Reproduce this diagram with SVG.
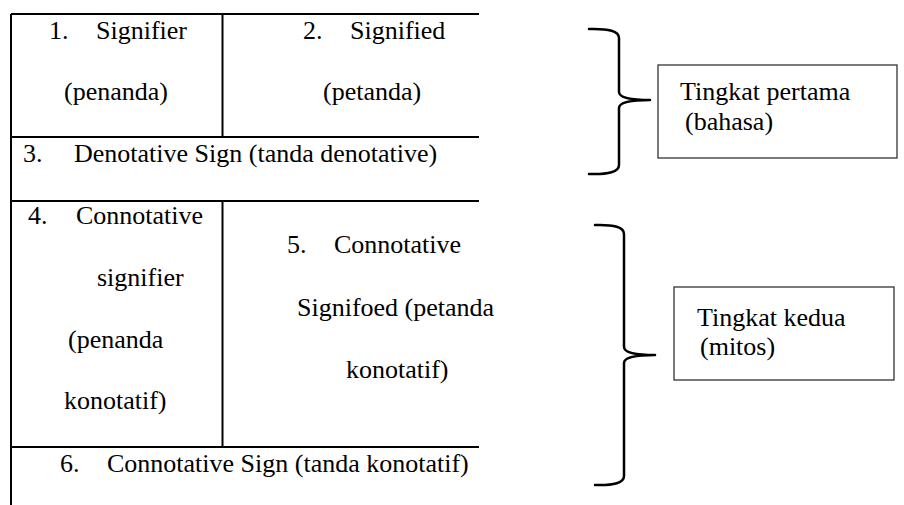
<svg xmlns="http://www.w3.org/2000/svg" width="904" height="505" viewBox="0 0 904 505">
  <style>
    .t { font-family: "Liberation Serif", "Times New Roman", serif; font-size: 26px; fill: #000; }
    .grid { stroke: #000; stroke-width: 2; fill: none; }
    .brace { stroke: #000; stroke-width: 2.5; fill: none; stroke-linecap: round; stroke-linejoin: round; }
    .label-box { fill: #fff; stroke: #333; stroke-width: 1.3; }
  </style>
  <rect width="904" height="505" fill="#fff"/>

  <!-- table grid -->
  <g id="table-grid" class="grid">
    <line x1="11" y1="14" x2="11" y2="505"/>
    <line x1="11" y1="14" x2="479" y2="14"/>
    <line x1="11" y1="137" x2="479" y2="137"/>
    <line x1="11" y1="201" x2="479" y2="201"/>
    <line x1="11" y1="447" x2="479" y2="447"/>
    <line x1="222.5" y1="14" x2="222.5" y2="137"/>
    <line x1="222.5" y1="201" x2="222.5" y2="447"/>
  </g>

  <g id="signifier">
    <text class="t" x="49" y="39">1.</text>
    <text class="t" x="96" y="39">Signifier</text>
    <text class="t" x="64" y="100">(penanda)</text>
  </g>
  <g id="signified">
    <text class="t" x="303" y="39">2.</text>
    <text class="t" x="350" y="39">Signified</text>
    <text class="t" x="323" y="100">(petanda)</text>
  </g>
  <g id="denotative-sign">
    <text class="t" x="23" y="162">3.</text>
    <text class="t" x="74" y="162">Denotative Sign (tanda denotative)</text>
  </g>
  <g id="connotative-signifier">
    <text class="t" x="28" y="224">4.</text>
    <text class="t" x="76" y="224">Connotative</text>
    <text class="t" x="97" y="286">signifier</text>
    <text class="t" x="68" y="348">(penanda</text>
    <text class="t" x="64" y="409">konotatif)</text>
  </g>
  <g id="connotative-signified">
    <text class="t" x="287" y="253">5.</text>
    <text class="t" x="334" y="253">Connotative</text>
    <text class="t" x="297" y="316">Signifoed (petanda</text>
    <text class="t" x="346" y="378">konotatif)</text>
  </g>
  <g id="connotative-sign">
    <text class="t" x="60" y="472">6.</text>
    <text class="t" x="107" y="472">Connotative Sign (tanda konotatif)</text>
  </g>

  <!-- braces grouping the two levels -->
  <g id="connectors">
    <path class="brace" d="M589,29 Q619,28 619,38 L619,92 Q619,100 650,100 Q619,100 619,108 L619,165 Q619,175 589,174"/>
    <path class="brace" d="M595,225 Q624,224 624,234 L624,347 Q624,355 655,355 Q624,355 624,363 L624,476 Q624,486 595,485"/>
  </g>

  <g id="level-one">
    <rect class="label-box" x="658" y="65" width="239" height="93"/>
    <text class="t" x="680" y="100">Tingkat pertama</text>
    <text class="t" x="685" y="130">(bahasa)</text>
  </g>
  <g id="level-two">
    <rect class="label-box" x="674" y="287" width="220" height="93"/>
    <text class="t" x="697" y="326">Tingkat kedua</text>
    <text class="t" x="700" y="355">(mitos)</text>
  </g>
</svg>
